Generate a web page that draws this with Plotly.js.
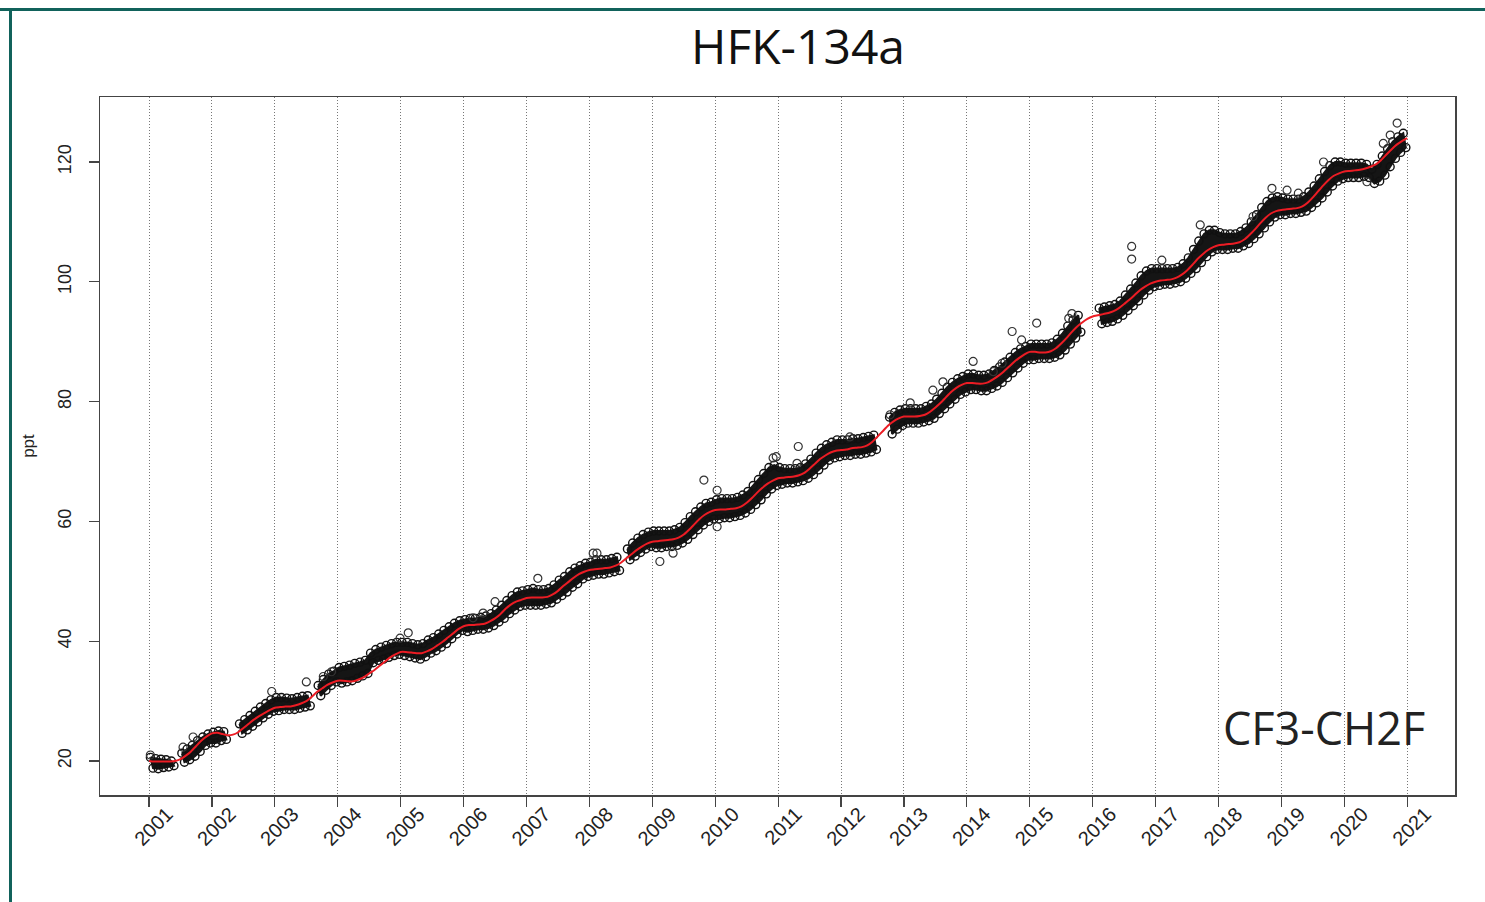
<!DOCTYPE html>
<html>
<head>
<meta charset="utf-8">
<script src="https://cdn.plot.ly/plotly-3.0.1.min.js"></script>
<style>
  html, body { margin: 0; padding: 0; background: #fff; }
  #wrap { position: relative; width: 1485px; height: 902px; overflow: hidden; }
  #chart { position: absolute; left: 0; top: 0; width: 1485px; height: 902px; }
  #frameTop { position: absolute; left: 0; top: 8px; width: 1485px; height: 3px; background: #11625b; pointer-events: none; }
  #frameLeft { position: absolute; left: 9px; top: 8px; width: 3px; height: 894px; background: #11625b; pointer-events: none; }
</style>
</head>
<body>
<div id="wrap">
  <div id="chart"></div>
  <div id="frameTop"></div>
  <div id="frameLeft"></div>
</div>
<script>
// ---- Data ----
const tickYears = [2001,2002,2003,2004,2005,2006,2007,2008,2009,2010,2011,2012,2013,2014,2015,2016,2017,2018,2019,2020,2021];
const tickLabels = ["2001","2002","2003","2004","2005","2006","2007","2008","2009","2010","2011","2012","2013","2014","2015","2016","2017","2018","2019","2020","2021"];
const yTicks = [20, 40, 60, 80, 100, 120];

// smoothed trend (red line), value at the start of each month, Jan 2001 .. Jan 2021
const trend = [
  20.0, 19.9, 19.9, 19.9, 19.9, 20.0, 20.3, 20.9, 21.6, 22.5, 23.4, 24.1,
  24.6, 24.7, 24.5, 24.3, 24.4, 24.8, 25.5, 26.2, 26.9, 27.5, 28.0, 28.5,
  28.9, 29.0, 29.1, 29.1, 29.3, 29.6, 30.0, 30.7, 31.5, 32.1, 32.7, 33.1,
  33.4, 33.4, 33.3, 33.3, 33.6, 34.0, 34.6, 35.2, 35.9, 36.6, 37.3, 37.8,
  38.2, 38.2, 38.1, 38.0, 38.0, 38.3, 38.7, 39.3, 39.9, 40.6, 41.3, 42.0,
  42.5, 42.7, 42.7, 42.8, 42.9, 43.3, 43.8, 44.5, 45.4, 46.1, 46.6, 46.9,
  47.2, 47.3, 47.3, 47.3, 47.4, 47.8, 48.4, 49.2, 49.9, 50.6, 51.2, 51.6,
  51.9, 52.0, 52.1, 52.2, 52.3, 52.6, 53.1, 53.8, 54.5, 55.2, 55.8, 56.3,
  56.6, 56.7, 56.8, 56.9, 57.0, 57.3, 57.8, 58.6, 59.5, 60.4, 61.1, 61.6,
  61.9, 62.0, 62.0, 62.1, 62.2, 62.5, 63.1, 63.9, 64.8, 65.6, 66.3, 66.8,
  67.2, 67.3, 67.4, 67.5, 67.7, 68.1, 68.8, 69.6, 70.4, 71.0, 71.5, 71.8,
  71.9, 72.0, 72.2, 72.3, 72.4, 72.7, 73.3, 74.2, 75.1, 76.0, 76.7, 77.2,
  77.5, 77.5, 77.5, 77.6, 77.8, 78.3, 79.0, 79.8, 80.7, 81.6, 82.3, 82.8,
  83.1, 83.1, 83.0, 83.0, 83.2, 83.7, 84.3, 85.0, 85.8, 86.6, 87.3, 87.9,
  88.3, 88.3, 88.2, 88.2, 88.4, 88.9, 89.7, 90.6, 91.6, 92.5, 93.2, 93.8,
  94.2, 94.4, 94.6, 94.8, 95.1, 95.6, 96.3, 97.0, 97.8, 98.6, 99.2, 99.7,
  100.0, 100.2, 100.3, 100.4, 100.7, 101.2, 101.9, 102.8, 103.8, 104.6, 105.3, 105.8,
  106.1, 106.2, 106.3, 106.4, 106.6, 107.1, 107.9, 108.8, 109.8, 110.7, 111.4, 111.8,
  112.0, 112.1, 112.2, 112.3, 112.6, 113.2, 114.1, 115.1, 116.1, 117.0, 117.7, 118.1,
  118.4, 118.5, 118.6, 118.7, 118.9, 119.2, 119.6, 120.3, 121.2, 122.1, 122.9, 123.5,
  124.0
];

// observations: upper edge of the point cloud per month (null = no data)
const obsHi = [
  20.6, 20.4, 20.3, 20.2, 20.0, null, 21.3, 22.0, 22.6, 23.4, 24.0, 24.5,
  24.8, 25.0, 24.9, null, null, 26.2, 26.9, 27.6, 28.3, 29.0, 29.6, 30.2,
  30.6, 30.6, 30.5, 30.4, 30.6, 30.8, 30.9, null, 32.6, 33.6, 34.5, 35.0,
  35.6, 35.8, 36.0, 36.3, 36.5, 36.8, 38.0, 38.6, 39.0, 39.3, 39.6, 39.8,
  39.8, 39.8, 39.6, 39.4, 39.6, 40.2, 40.6, 41.2, 41.8, 42.4, 43.0, 43.4,
  43.6, 43.8, 43.8, 44.0, 44.2, 44.6, 45.2, 46.0, 46.8, 47.6, 48.2, 48.4,
  48.6, 48.8, 48.6, 48.6, 48.8, 49.4, 50.2, 50.8, 51.6, 52.2, 52.6, 53.0,
  53.2, 53.6, 53.6, 53.6, 53.8, 54.0, null, 55.4, 56.4, 57.2, 57.8, 58.2,
  58.4, 58.4, 58.4, 58.4, 58.6, 59.0, 59.8, 60.8, 61.6, 62.4, 63.0, 63.2,
  63.6, 63.8, 63.8, 63.8, 64.0, 64.4, 65.0, 66.0, 67.0, 68.0, 69.0, 69.4,
  69.0, 68.8, 68.8, 68.8, 69.0, 69.6, 70.4, 71.4, 72.2, 72.8, 73.2, 73.6,
  73.6, 73.6, 73.8, 73.8, 74.0, 74.2, 74.4, null, null, 77.4, 78.2, 78.6,
  78.8, 78.8, 78.8, 78.8, 79.2, 79.6, 80.4, 81.4, 82.4, 83.2, 83.8, 84.2,
  84.6, 84.6, 84.4, 84.4, 84.6, 85.2, 85.8, 86.6, 87.4, 88.2, 88.8, 89.2,
  89.6, 89.6, 89.6, 89.6, 89.8, 90.4, 91.4, 92.6, 93.6, 94.4, null, null,
  null, 95.6, 95.8, 96.0, 96.2, 96.8, 97.8, 98.8, 99.8, 101.0, 101.8, 102.2,
  102.2, 102.2, 102.2, 102.2, 102.4, 103.0, 104.0, 105.4, 106.8, 108.0, 108.6, 108.6,
  108.2, 108.0, 108.0, 108.0, 108.4, 109.0, 110.0, 111.2, 112.4, 113.4, 114.0, 114.2,
  114.0, 113.8, 113.8, 113.8, 114.2, 115.0, 116.0, 117.2, 118.4, 119.4, 120.0, 120.0,
  119.8, 119.8, 119.8, 119.8, 119.6, 118.8, 119.6, 121.0, 122.2, 123.4, 124.2, 124.8
];

// observations: lower edge of the point cloud per month (null = no data)
const obsLo = [
  18.8, 18.7, 18.9, 19.0, 19.2, null, 19.8, 20.2, 20.8, 21.6, 22.6, 23.0,
  23.0, 23.4, 23.6, null, null, 24.6, 25.2, 25.8, 26.5, 27.2, 27.8, 28.3,
  28.4, 28.6, 28.6, 28.6, 28.8, 29.0, 29.2, null, 30.9, 31.8, 32.6, 33.2,
  33.0, 33.2, 33.4, 33.8, 34.2, 34.6, 36.4, 36.8, 37.0, 37.3, 37.6, 37.8,
  37.6, 37.4, 37.2, 37.0, 37.4, 38.0, 38.4, 39.0, 39.6, 40.4, 41.2, 41.8,
  41.6, 41.8, 42.0, 42.0, 42.2, 42.6, 43.2, 43.8, 44.6, 45.2, 45.8, 46.0,
  46.0, 46.0, 46.0, 46.2, 46.4, 47.0, 47.6, 48.2, 49.0, 49.6, 50.4, 50.8,
  51.0, 51.2, 51.2, 51.4, 51.6, 51.8, null, 53.6, 54.2, 54.8, 55.4, 55.8,
  55.6, 55.6, 55.8, 55.8, 56.0, 56.4, 57.0, 57.8, 58.6, 59.4, 60.0, 60.4,
  60.4, 60.6, 60.6, 60.8, 61.0, 61.4, 62.0, 62.8, 63.6, 64.6, 65.4, 66.0,
  66.2, 66.4, 66.4, 66.6, 66.8, 67.2, 67.8, 68.6, 69.4, 70.2, 70.6, 70.8,
  71.0, 71.0, 71.2, 71.2, 71.4, 71.6, 72.0, null, null, 74.6, 75.4, 76.0,
  76.4, 76.4, 76.4, 76.6, 76.8, 77.2, 78.0, 78.8, 79.6, 80.4, 81.2, 81.6,
  82.0, 82.0, 81.8, 81.8, 82.2, 82.6, 83.2, 84.0, 84.8, 85.6, 86.4, 87.0,
  87.0, 87.2, 87.2, 87.2, 87.4, 87.8, 88.6, 89.6, 90.6, 91.6, null, null,
  null, 93.0, 93.2, 93.4, 93.8, 94.4, 95.2, 96.0, 96.8, 97.8, 98.6, 99.2,
  99.4, 99.6, 99.6, 99.8, 100.0, 100.6, 101.4, 102.2, 103.2, 104.2, 105.0, 105.4,
  105.4, 105.4, 105.6, 105.6, 106.0, 106.4, 107.2, 108.0, 109.0, 110.0, 110.8, 111.2,
  111.2, 111.4, 111.4, 111.6, 111.8, 112.4, 113.2, 114.0, 115.0, 116.0, 116.8, 117.2,
  117.4, 117.4, 117.4, 117.6, 117.4, 116.4, 116.8, 117.8, 119.2, 120.6, 121.6, 122.4
];

// isolated outlying observations (decimal year, ppt)
const outlierX = [2001.02, 2001.54, 2001.70, 2002.95, 2003.50, 2003.77, 2003.90, 2004.99, 2005.12, 2006.15,
                  2006.31, 2006.50, 2007.18, 2008.06, 2008.12, 2009.12, 2009.33, 2009.82, 2010.03, 2010.03,
                  2010.92, 2011.32, 2011.30, 2010.97, 2012.14, 2012.78, 2013.10, 2013.46, 2013.62, 2014.10,
                  2014.42, 2014.56, 2014.72, 2014.87, 2015.11, 2015.67, 2015.62, 2016.62, 2016.62, 2017.10,
                  2017.71, 2018.55, 2018.85, 2019.09, 2019.27, 2019.67, 2020.36, 2020.62, 2020.73, 2020.84];
const outlierY = [21.0, 22.3, 24.0, 31.6, 33.2, 34.1, 34.9, 40.5, 41.4, 43.9,
                  44.7, 46.6, 50.5, 54.7, 54.7, 53.3, 54.7, 66.9, 65.2, 59.1,
                  70.6, 72.5, 69.7, 70.8, 74.1, 77.8, 79.8, 81.9, 83.3, 86.7,
                  85.0, 86.4, 91.7, 90.3, 93.1, 94.7, 93.9, 105.9, 103.8, 103.6,
                  109.5, 110.9, 115.6, 115.3, 114.8, 120.0, 116.7, 123.1, 124.5, 126.5];

// ---- Build traces ----
const trendX = trend.map((_, i) => 2001 + i / 12);
const hiX = obsHi.map((_, i) => 2001 + (i + 0.25) / 12);
const loX = obsLo.map((_, i) => 2001 + (i + 0.75) / 12);

// dense part of the point cloud: one filled polygon per contiguous run of months
const bandTraces = [];
let seg = [];
function flushSeg() {
  if (seg.length) {
    const xs = [], ys = [];
    seg.forEach(i => { xs.push(hiX[i]); ys.push(obsHi[i]); });
    seg.slice().reverse().forEach(i => { xs.push(loX[i]); ys.push(obsLo[i]); });
    xs.push(xs[0]); ys.push(ys[0]);
    bandTraces.push({ x: xs, y: ys, type: 'scatter', mode: 'lines', fill: 'toself',
      fillcolor: '#151515', line: { color: '#151515', width: 2 }, hoverinfo: 'skip', showlegend: false });
  }
  seg = [];
}
for (let i = 0; i < obsHi.length; i++) {
  if (obsHi[i] === null || obsLo[i] === null) flushSeg(); else seg.push(i);
}
flushSeg();

const circle = { symbol: 'circle-open', size: 8, color: '#111', line: { width: 1.4, color: '#111' } };

const traces = bandTraces.concat([
  { x: hiX, y: obsHi, type: 'scatter', mode: 'markers', marker: circle, hoverinfo: 'x+y', showlegend: false },
  { x: loX, y: obsLo, type: 'scatter', mode: 'markers', marker: circle, hoverinfo: 'x+y', showlegend: false },
  { x: outlierX, y: outlierY, type: 'scatter', mode: 'markers', marker: { symbol: 'circle-open', size: 8, color: '#333', line: { width: 1.2, color: '#333' } }, hoverinfo: 'x+y', showlegend: false },
  { x: trendX, y: trend, type: 'scatter', mode: 'lines', line: { color: '#ec1c24', width: 2, shape: 'spline', smoothing: 0.6 }, hoverinfo: 'x+y', showlegend: false }
]);

const axisFont = { family: 'Liberation Sans, Arial, sans-serif', size: 18, color: '#222' };

const layout = {
  width: 1485,
  height: 902,
  margin: { l: 100, r: 30, t: 97, b: 107 },
  paper_bgcolor: '#ffffff',
  plot_bgcolor: '#ffffff',
  showlegend: false,
  title: {
    text: 'HFK-134a',
    font: { family: 'Open Sans, Noto Sans, sans-serif', size: 48, color: '#111' },
    xref: 'container', yref: 'container',
    x: 798 / 1485, xanchor: 'center',
    y: 1 - 47 / 902, yanchor: 'middle'
  },
  xaxis: {
    range: [2000.22, 2021.76],
    tickmode: 'array',
    tickvals: tickYears,
    ticktext: tickLabels,
    tickangle: -45,
    ticks: 'outside',
    ticklen: 10,
    tickwidth: 1.2,
    tickcolor: '#444',
    tickfont: { family: 'Liberation Sans, Arial, sans-serif', size: 20, color: '#222' },
    ticklabelshift: 18,
    ticklabelstandoff: -12,
    showgrid: true,
    gridcolor: '#777',
    gridwidth: 1,
    griddash: '1px,2px',
    zeroline: false,
    showline: true,
    linecolor: '#444',
    linewidth: 1.5,
    mirror: true
  },
  yaxis: {
    range: [14.32, 130.85],
    tickmode: 'array',
    tickvals: yTicks,
    ticktext: yTicks.map(String),
    tickangle: -90,
    ticks: 'outside',
    ticklen: 10,
    tickwidth: 1.2,
    tickcolor: '#444',
    tickfont: axisFont,
    ticklabelstandoff: 10,
    showgrid: false,
    zeroline: false,
    showline: true,
    linecolor: '#444',
    linewidth: 1.5,
    mirror: true,
    title: { text: 'ppt', font: { family: 'Liberation Sans, Arial, sans-serif', size: 17, color: '#222' }, standoff: 16 }
  },
  annotations: [
    {
      text: 'CF3-CH2F',
      xref: 'paper', yref: 'paper',
      x: (1427 - 100) / 1355, xanchor: 'right',
      y: (795 - 727) / 698, yanchor: 'middle',
      showarrow: false,
      font: { family: 'Open Sans, Noto Sans, sans-serif', size: 45, color: '#222' }
    }
  ]
};

Plotly.newPlot('chart', traces, layout, { displayModeBar: false, staticPlot: true });
</script>
</body>
</html>
